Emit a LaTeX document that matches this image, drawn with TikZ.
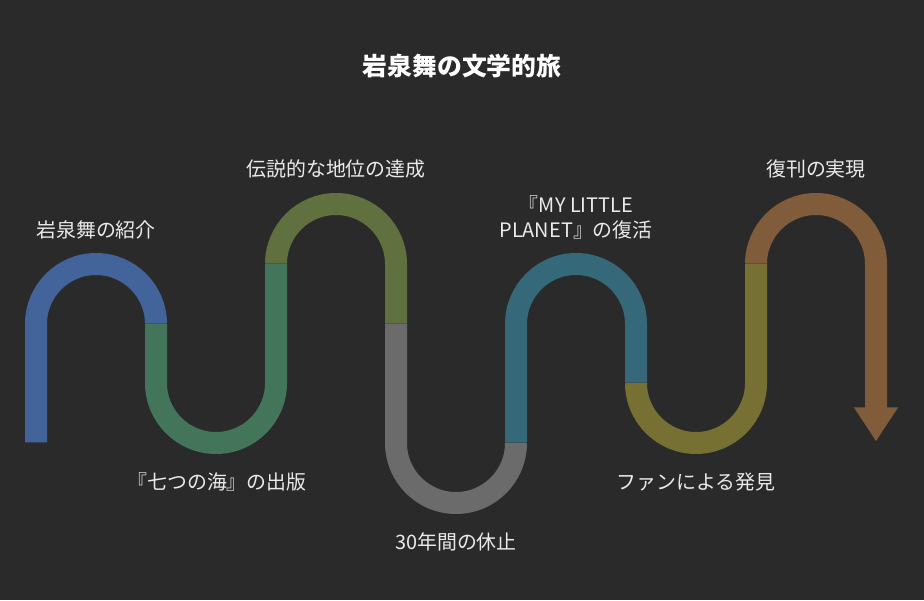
\documentclass[tikz,border=0pt]{standalone}
\usepackage{fontspec}
\setmainfont{Noto Sans CJK JP}
\usetikzlibrary{calc}
\definecolor{bg}{HTML}{2A2A2A}
\definecolor{cblue}{HTML}{42649A}
\definecolor{cgreen}{HTML}{43755A}
\definecolor{colgreen}{HTML}{60713F}
\definecolor{cgray}{HTML}{6B6B6B}
\definecolor{cteal}{HTML}{356878}
\definecolor{colive}{HTML}{767032}
\definecolor{cbrown}{HTML}{805C3B}
\definecolor{txt}{HTML}{EAEAEA}
\tikzset{
  seg/.style={line width=22pt, line cap=butt},
  sep/.style={line width=1pt, draw=black!75, opacity=0.5},
  lbl/.style={text=txt, font=\fontsize{19.9}{25}\selectfont, align=center, inner sep=0pt},
  ttl/.style={text=white, font=\fontsize{24.8}{28}\selectfont\bfseries, inner sep=0pt},
}
\begin{document}
\begin{tikzpicture}[x=1pt,y=1pt]
\fill[bg] (0,0) rectangle (924,600);
\useasboundingbox (0,0) rectangle (924,600);
% joints
\coordinate (s0) at (36,157.5);
\coordinate (j1) at (156,276);
\coordinate (j2) at (276,336);
\coordinate (j3) at (396,276);
\coordinate (j4) at (516,157);
\coordinate (j5) at (636,217);
\coordinate (j6) at (756,336);
\coordinate (e7) at (876,192);
% segments
\draw[seg, cblue] (s0) -- (36,276) arc[start angle=180, end angle=0, radius=60pt];
\draw[seg, cgreen] (j1) -- (156,217) arc[start angle=180, end angle=360, radius=60pt] -- (j2);
\draw[seg, colgreen] (j2) arc[start angle=180, end angle=0, radius=60pt] -- (j3);
\draw[seg, cgray] (j3) -- (396,157) arc[start angle=180, end angle=360, radius=60pt];
\draw[seg, cteal] (j4) -- (516,276) arc[start angle=180, end angle=0, radius=60pt] -- (j5);
\draw[seg, colive] (j5) arc[start angle=180, end angle=360, radius=60pt] -- (j6);
\draw[seg, cbrown] (j6) arc[start angle=180, end angle=0, radius=60pt] -- (e7);
\fill[cbrown] ($(e7)+(-22,0.5)$) -- ($(e7)+(22,0.5)$) -- ($(e7)+(0,-33)$) -- cycle;
% separators
\foreach \j in {j1,j2,j3,j4,j5,j6}
  \draw[sep] ($(\j)+(-11,0)$) -- ($(\j)+(11,0)$);
% labels
\node[ttl] (title) at (462,534) {岩泉舞の文学的旅};
\node[lbl] (l1) at (96,370) {岩泉舞の紹介};
\node[lbl] (l2) at (217,118) {『七つの海』の出版};
\node[lbl] (l3) at (336,431) {伝説的な地位の達成};
\node[lbl] (l4) at (456,58) {30年間の休止};
\node[lbl] (l5) at (576,383) {『MY LITTLE\\PLANET』の復活};
\node[lbl] (l6) at (696,118) {ファンによる発見};
\node[lbl] (l7) at (816,431) {復刊の実現};
\end{tikzpicture}
\end{document}
